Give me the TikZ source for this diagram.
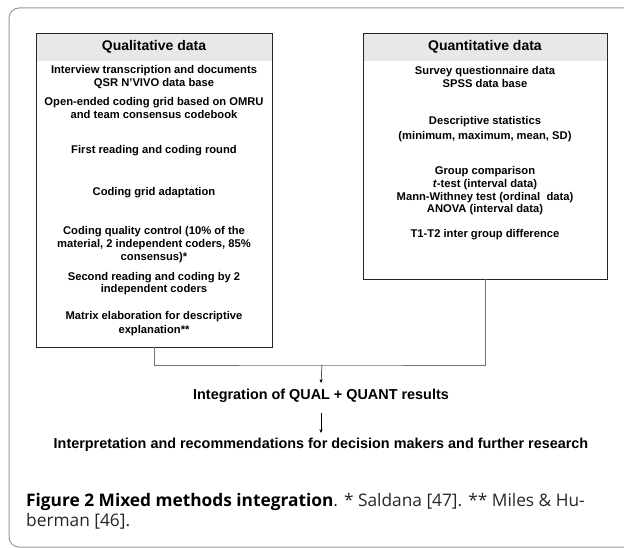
\documentclass[tikz,border=0pt]{standalone}
\usepackage{fontspec}
\setmainfont{Liberation Sans}
\newfontfamily\capfont{Open Sans}
\usetikzlibrary{arrows.meta,positioning,calc}

\begin{document}
\begin{tikzpicture}[x=1pt, y=-1pt,
  every node/.style={inner sep=0pt, align=center},
  item/.style={font=\bfseries\fontsize{11.2}{12.5}\selectfont},
  result/.style={font=\bfseries\fontsize{14.4}{16}\selectfont},
  headband/.style={fill=black!9, minimum height=28, font=\bfseries\fontsize{14}{16}\selectfont},
  databox/.style={draw=black!85, line width=0.9pt},
  link/.style={draw=black!55, line width=0.9pt},
  flow/.style={-{Stealth[length=4pt,width=3.2pt]}, line width=0.5pt},
  frame/.style={draw=black!40, line width=1pt, rounded corners=10pt}]
  \useasboundingbox (0,0) rectangle (624,548);
  % outer frame, open to the right
  \draw[frame] (624,8) -- (9,8) -- (9,547) -- (624,547);

  % headers first, borders on top
  \node[headband, minimum width=236] (qualhead) at (154,47) {Qualitative data};
  \node[headband, minimum width=244] (quanthead) at (485,47) {Quantitative data};
  \node[databox, minimum width=236, minimum height=314] (qual) at (154,190) {};
  \node[databox, minimum width=244, minimum height=246] (quant) at (485,156) {};

  % qualitative steps
  \node[item] (qlImport) at (154,77) {Interview transcription and documents\\QSR N'VIVO data base};
  \node[item] (qlGrid) at (154,108) {Open-ended coding grid based on OMRU\\and team consensus codebook};
  \node[item] (qlFirst) at (154,151) {First reading and coding round};
  \node[item] (qlAdapt) at (154,193) {Coding grid adaptation};
  \node[item, font=\bfseries\fontsize{11.2}{13}\selectfont] (qlControl) at (154,245)
    {Coding quality control (10\% of the\\material, 2 independent coders, 85\%\\consensus)*};
  \node[item] (qlSecond) at (154,283.5) {Second reading and coding by 2\\independent coders};
  \node[item, font=\bfseries\fontsize{11.2}{14}\selectfont] (qlMatrix) at (154,324)
    {Matrix elaboration for descriptive\\explanation**};

  % quantitative steps
  \node[item] (qnSurvey) at (485,77) {Survey questionnaire data\\SPSS data base};
  \node[item, font=\bfseries\fontsize{11.2}{15}\selectfont] (qnDescr) at (485,129.5)
    {Descriptive statistics\\(minimum, maximum, mean, SD)};
  \node[item, font=\bfseries\fontsize{11.2}{12.7}\selectfont] (qnGroup) at (485,191)
    {Group comparison\\\textit{t}-test (interval data)\\Mann-Withney test (ordinal~ data)\\ANOVA (interval data)};
  \node[item] (qnDiff) at (485,235) {T1-T2 inter group difference};

  % integration
  \coordinate (merge) at (322,365);
  \node[result] (integ) at (321,396) {Integration of QUAL + QUANT results};
  \node[result] (interp) at (321,445) {Interpretation and recommendations for decision makers and further research};
  \draw[link] (qual.south) |- (merge) -| (quant.south);
  \draw[flow] (merge) -- ([yshift=6pt]integ.north);
  \draw[flow] ([yshift=-10pt]integ.south) -- ([yshift=5pt]interp.north);

  % caption
  \node[anchor=north west, align=left, font=\capfont\fontsize{17.3}{20}\selectfont, text=black!85] (caption) at (26,493)
    {\textbf{\color{black}Figure 2 Mixed methods integration}. * Saldana [47]. ** Miles \& Hu-\\berman [46].};
\end{tikzpicture}
\end{document}
